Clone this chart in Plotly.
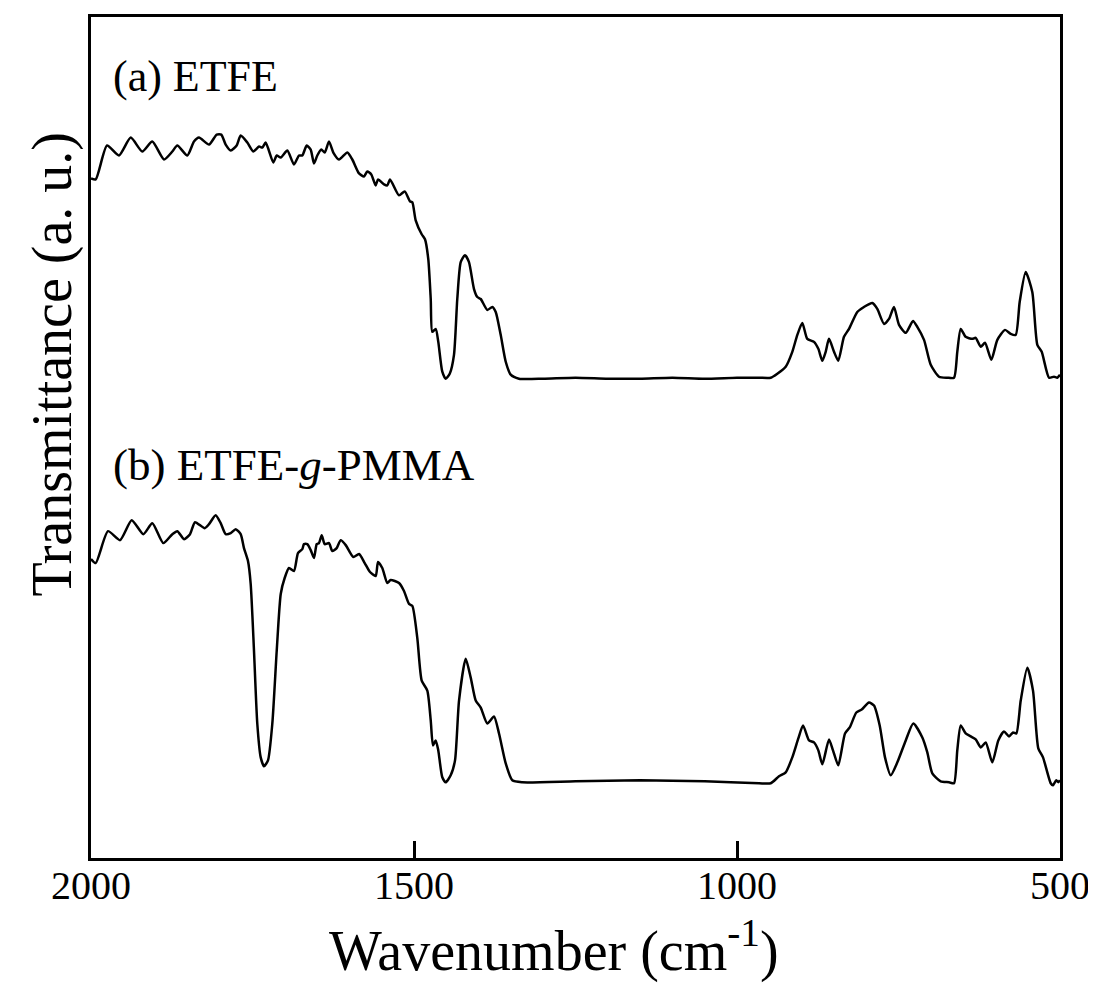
import plotly.graph_objects as go

# Wavenumber (cm-1) and transmittance (a.u.)
wn_a = [2000, 1992.7, 1975.2, 1956.7, 1938.5, 1920.6, 1905.1, 1887, 1874.1, 1866.4,
        1850.9, 1840.6, 1832.8, 1817.3, 1805.4, 1798.3, 1791.5, 1783.7, 1774.5, 1768.3,
        1758, 1748.8, 1739.9, 1734.8, 1729.6, 1717.8, 1712.5, 1706.3, 1696.1, 1685.8,
        1678, 1672.9, 1666.1, 1659.9, 1654.8, 1649.7, 1643.5, 1638.2, 1631.6, 1624.9,
        1616.1, 1603.2, 1595.5, 1585.1, 1577.4, 1572.3, 1566.1, 1559.3, 1555.7, 1546.4,
        1541.3, 1537.1, 1523.2, 1514.4, 1506.2, 1502.6, 1497.4, 1488.1, 1483, 1477.9,
        1474.1, 1471.7, 1466.4, 1462.4, 1456.2, 1450.9, 1444.7, 1438.1, 1433, 1427.7,
        1421.1, 1414.9, 1407.1, 1402, 1396.7, 1386.5, 1378.8, 1373.5, 1365.8, 1358,
        1350.3, 1337.5, 1300, 1250, 1200, 1150, 1100, 1050, 1000, 965.9,
        947.8, 937.6, 924.6, 914.4, 906.6, 898.9, 891.2, 880.8, 874.1, 867.9,
        862.7, 857.6, 849.8, 843.2, 834.4, 826.6, 813.8, 803.4, 790.5, 782.8,
        772.4, 764.7, 757, 749.2, 738.8, 727.5, 720.9, 710.5, 700.1, 687.3,
        674.4, 664.1, 659, 653.7, 646, 635.7, 630.5, 622.7, 616.1, 606.3,
        597, 585.1, 576.3, 568.6, 562.4, 553.1, 542.9, 535.1, 528.3, 517,
        509.3, 504.2, 500]
t_a = [68.2, 68.1, 71.5, 70.5, 72.3, 70.9, 71.9, 70.1, 70.9, 71.5,
       70.5, 71.9, 72.3, 71.6, 72.6, 72.6, 71.6, 71.0, 71.5, 72.5,
       71.8, 70.9, 71.4, 71.3, 71.8, 69.8, 70.5, 70.3, 71.0, 69.6,
       70.5, 70.5, 71.5, 71.1, 69.7, 70.5, 71.1, 70.8, 71.9, 70.8,
       70.1, 70.8, 70.1, 68.7, 68.4, 68.9, 68.6, 67.5, 68.1, 67.6,
       67.5, 68.1, 66.5, 66.9, 65.9, 65.8, 64.0, 62.6, 62.1, 60.1,
       56.1, 52.8, 53.1, 51.8, 48.8, 48.1, 48.6, 50.5, 56.1, 59.8,
       60.5, 59.8, 57.1, 56.3, 56.1, 55.0, 55.3, 54.8, 52.5, 49.8,
       48.5, 48.1, 48.1, 48.2, 48.1, 48.1, 48.2, 48.1, 48.2, 48.2,
       48.2, 48.6, 49.3, 50.8, 52.5, 53.7, 52.1, 51.8, 51.1, 49.9,
       50.8, 52.1, 50.8, 49.9, 52.3, 53.1, 54.8, 55.3, 55.7, 55.1,
       53.6, 54.1, 55.3, 53.5, 52.7, 53.9, 53.3, 52.0, 49.5, 48.3,
       48.2, 48.2, 50.8, 53.1, 52.3, 52.1, 52.2, 51.3, 51.7, 50.0,
       52.0, 53.0, 52.6, 52.5, 55.8, 58.8, 56.8, 51.5, 50.8, 48.2,
       48.3, 48.2, 48.5]

wn_b = [2000, 1992.7, 1973.7, 1955.1, 1937, 1919, 1905.1, 1888.1, 1874.1, 1866.4,
        1856, 1846.7, 1839, 1824, 1817.3, 1807, 1799.2, 1791.5, 1783.7, 1776,
        1768.3, 1763.2, 1757, 1752.8, 1747.7, 1742.6, 1737.3, 1732.2, 1726, 1719.3,
        1712.5, 1706.3, 1700.2, 1693.5, 1685.8, 1679.6, 1672.9, 1670.3, 1665.2, 1659.9,
        1654.8, 1650.6, 1647.1, 1642.9, 1638.2, 1631.6, 1626.5, 1619.7, 1613.5, 1605.7,
        1594, 1585.1, 1576.3, 1568.1, 1559.3, 1555.7, 1549.1, 1541.3, 1536.1, 1523.2,
        1515.5, 1507.7, 1502.6, 1494.9, 1488.1, 1479.4, 1474.1, 1470.6, 1466.4, 1462.4,
        1456.2, 1450.9, 1443.2, 1436.5, 1430.3, 1420, 1412.2, 1404.5, 1396.7, 1386.5,
        1376.2, 1368.4, 1358, 1347.8, 1332.3, 1250, 1150, 1050, 965.9, 947.8,
        935, 924.6, 914.4, 905.1, 897.8, 888.5, 880.8, 874.1, 867.9, 857.6,
        851.4, 843.2, 832.8, 825.5, 815.3, 807, 795.7, 787.9, 779.1, 770.9,
        762.1, 751.8, 738.8, 727.1, 713.1, 705.4, 697.7, 684.7, 671.8, 664.1,
        659, 653.7, 646, 638.2, 630.5, 622.7, 615, 604.8, 595.5, 586.7,
        578.9, 572.7, 567.6, 560.8, 550.6, 541.8, 533.6, 526.3, 514.4, 510.8,
        505.7, 502.6, 500]
t_b = [30.0, 29.6, 32.8, 31.9, 33.9, 32.5, 33.6, 31.6, 32.5, 32.8,
       32.0, 32.5, 33.7, 33.1, 33.5, 34.4, 33.6, 32.5, 32.6, 33.0,
       32.5, 31.1, 29.8, 27.5, 20.8, 13.5, 10.1, 9.2, 9.8, 13.5,
       20.8, 26.5, 28.1, 29.1, 28.8, 30.6, 31.0, 31.5, 31.5, 30.9,
       30.1, 31.5, 31.6, 32.4, 31.5, 31.6, 30.8, 31.1, 31.9, 31.4,
       30.2, 30.5, 29.6, 28.7, 28.3, 29.7, 29.1, 27.6, 27.9, 27.6,
       26.8, 25.5, 25.3, 22.1, 17.8, 16.8, 13.8, 11.3, 11.8, 10.8,
       8.1, 7.6, 8.3, 9.8, 15.8, 20.0, 18.1, 15.8, 15.1, 13.5,
       14.2, 12.5, 9.5, 7.8, 7.6, 7.7, 7.8, 7.7, 7.5, 7.5,
       8.2, 8.6, 10.1, 12.0, 13.3, 11.8, 11.6, 10.8, 9.4, 11.9,
       10.8, 9.3, 12.5, 13.1, 14.6, 14.9, 15.6, 15.3, 13.3, 10.1,
       8.3, 9.6, 11.8, 13.5, 12.1, 10.6, 8.5, 7.7, 7.6, 7.5,
       10.8, 13.3, 12.5, 12.2, 11.9, 11.1, 11.6, 9.6, 11.8, 12.7,
       12.2, 12.6, 12.5, 15.8, 19.1, 16.8, 11.0, 10.1, 7.5, 7.3,
       7.8, 7.6, 7.8]

x_ticks = [2000, 1500, 1000, 500]
x_ticktext = ["2000", "1500", "1000", "500"]

FONT = "Liberation Serif, Times New Roman, serif"

fig = go.Figure()
for xs, ys in [(wn_a, t_a), (wn_b, t_b)]:
    fig.add_trace(go.Scatter(x=xs, y=ys, mode="lines",
                             line=dict(color="black", width=2.5, shape="spline", smoothing=0.6),
                             showlegend=False, hoverinfo="skip"))

fig.update_layout(
    width=1088, height=975,
    margin=dict(l=83, r=35, t=6, b=125),
    paper_bgcolor="white", plot_bgcolor="white",
    font=dict(family=FONT, color="black"),
    xaxis=dict(range=[2000, 500], tickvals=x_ticks, ticktext=x_ticktext,
               ticks="inside", ticklen=17, tickwidth=3, tickcolor="black",
               ticklabelstandoff=-10,
               showline=True, mirror=True, linewidth=3, linecolor="black",
               showgrid=False, zeroline=False,
               tickfont=dict(family=FONT, size=40, color="black")),
    yaxis=dict(range=[0, 84.4], showticklabels=False, ticks="",
               showline=True, mirror=True, linewidth=3, linecolor="black",
               showgrid=False, zeroline=False),
    annotations=[
        dict(text="(a) ETFE", xref="paper", yref="paper", x=0.0203, y=0.929,
             xanchor="left", yanchor="middle", showarrow=False,
             font=dict(family=FONT, size=44, color="black")),
        dict(text="(b) ETFE-<i>g</i>-PMMA", xref="paper", yref="paper", x=0.0203, y=0.4675,
             xanchor="left", yanchor="middle", showarrow=False,
             font=dict(family=FONT, size=45, color="black")),
        dict(text="Wavenumber (cm<sup>-1</sup>)", xref="paper", yref="paper", x=0.478, y=-0.1055,
             xanchor="center", yanchor="middle", showarrow=False,
             font=dict(family=FONT, size=56, color="black")),
        dict(text="Transmittance (a. u.)", xref="paper", yref="paper", x=-0.040, y=0.587,
             xanchor="center", yanchor="middle", textangle=-90, showarrow=False,
             font=dict(family=FONT, size=56, color="black")),
    ],
)

fig.write_html("out.html")
